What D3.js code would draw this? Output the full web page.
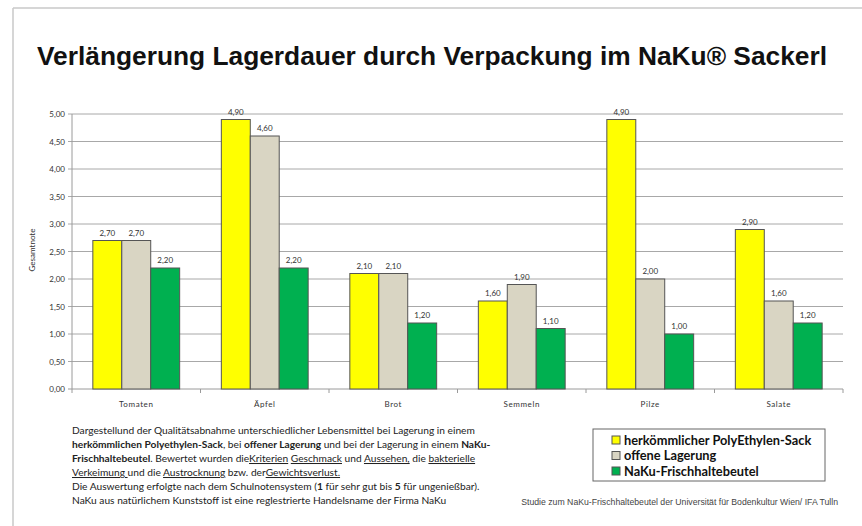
<!DOCTYPE html>
<html lang="de">
<head>
<meta charset="UTF-8">
<title>Verlängerung Lagerdauer</title>
<script src="https://d3js.org/d3.v7.min.js"></script>
<style>
  body { margin: 0; background: #fff; }
  svg { display: block; }
</style>
</head>
<body>
<div id="chart"></div>
<script>
const categories = ["Tomaten", "Äpfel", "Brot", "Semmeln", "Pilze", "Salate"];
const seriesNames = ["herkömmlicher PolyEthylen-Sack", "offene Lagerung", "NaKu-Frischhaltebeutel"];
const polySack = [2.7, 4.9, 2.1, 1.6, 4.9, 2.9];
const offen = [2.7, 4.6, 2.1, 1.9, 2.0, 1.6];
const naku = [2.2, 2.2, 1.2, 1.1, 1.0, 1.2];
const yTicks = [0, 0.5, 1, 1.5, 2, 2.5, 3, 3.5, 4, 4.5, 5];
const colors = ["#ffff00", "#d9d5c3", "#00b050"];

const W = 862, H = 526;
const svg = d3.select("#chart").append("svg").attr("width", W).attr("height", H);

// frame
svg.append("line").attr("x1", 13).attr("x2", W).attr("y1", 8).attr("y2", 8).attr("stroke", "#c8c8c8").attr("stroke-width", 1.5);
svg.append("line").attr("x1", 13).attr("x2", 13).attr("y1", 8).attr("y2", H).attr("stroke", "#c8c8c8").attr("stroke-width", 1.5);

svg.append("text")
  .attr("x", 432).attr("y", 65)
  .attr("text-anchor", "middle")
  .attr("font-family", "Liberation Sans, Arial, sans-serif")
  .attr("font-weight", "bold")
  .attr("font-size", 25)
  .attr("textLength", 790).attr("lengthAdjust", "spacingAndGlyphs")
  .attr("fill", "#111")
  .text("Verlängerung Lagerdauer durch Verpackung im NaKu® Sackerl");

const plotL = 72, plotR = 843, plotT = 114, plotB = 389;
const fmt = v => d3.format(".2f")(v).replace(".", ",");

const x0 = d3.scaleBand().domain(categories).range([plotL, plotR]);
const x1 = d3.scaleBand().domain(d3.range(3)).range([0, x0.bandwidth()]).paddingOuter(0.72);
const y = d3.scaleLinear().domain([0, 5]).range([plotB, plotT]);

// grid
svg.append("g").selectAll("line").data(yTicks).join("line")
  .attr("x1", plotL - 4).attr("x2", plotR)
  .attr("y1", d => y(d)).attr("y2", d => y(d))
  .attr("stroke", d => d === 0 ? "#9a9a9a" : "#a8a8a8").attr("stroke-width", 1);
svg.append("line").attr("x1", plotL).attr("x2", plotL).attr("y1", plotT).attr("y2", plotB).attr("stroke", "#9a9a9a");

svg.append("g").selectAll("text").data(yTicks).join("text")
  .attr("x", plotL - 7).attr("y", d => y(d) + 3)
  .attr("text-anchor", "end")
  .attr("font-family", "Lato, sans-serif").attr("font-size", 8).attr("fill", "#333")
  .text(fmt);

svg.append("text")
  .attr("transform", "translate(35,250) rotate(-90)")
  .attr("text-anchor", "middle")
  .attr("font-family", "Lato, sans-serif").attr("font-size", 8).attr("fill", "#333")
  .text("Gesamtnote");

// category ticks
svg.append("g").selectAll("line").data(d3.range(categories.length + 1)).join("line")
  .attr("x1", i => plotL + i * x0.step()).attr("x2", i => plotL + i * x0.step())
  .attr("y1", plotB).attr("y2", plotB + 4)
  .attr("stroke", "#9a9a9a");

svg.append("g").selectAll("text").data(categories).join("text")
  .attr("x", d => x0(d) + x0.bandwidth() / 2).attr("y", 407)
  .attr("text-anchor", "middle")
  .attr("font-family", "Lato, sans-serif").attr("font-size", 8).attr("letter-spacing", 0.6).attr("fill", "#333")
  .text(d => d);

// bars
const series = [polySack, offen, naku];
const barData = [];
categories.forEach((c, i) => series.forEach((s, j) => barData.push({ c, j, v: s[i] })));

svg.append("g").selectAll("rect").data(barData).join("rect")
  .attr("x", d => x0(d.c) + x1(d.j))
  .attr("y", d => y(d.v))
  .attr("width", x1.bandwidth())
  .attr("height", d => plotB - y(d.v))
  .attr("fill", d => colors[d.j])
  .attr("stroke", "#555").attr("stroke-width", 1);

svg.append("g").selectAll("text").data(barData).join("text")
  .attr("x", d => x0(d.c) + x1(d.j) + x1.bandwidth() / 2)
  .attr("y", d => y(d.v) - 5)
  .attr("text-anchor", "middle")
  .attr("font-family", "Lato, sans-serif").attr("font-size", 8).attr("fill", "#333")
  .text(d => fmt(d.v));

// description
const desc = [
  [["Dargestellund der Qualitätsabnahme unterschiedlicher Lebensmittel bei Lagerung in einem", ""]],
  [["herkömmlichen Polyethylen-Sack", "b"], [", bei ", ""], ["offener Lagerung", "b"], [" und bei der Lagerung in einem ", ""], ["NaKu-", "b"]],
  [["Frischhaltebeutel", "b"], [". Bewertet wurden die", ""], ["Kriterien", "u"], [" ", ""], ["Geschmack", "u"], [" und ", ""], ["Aussehen,", "u"], [" die ", ""], ["bakterielle", "u"]],
  [["Verkeimung ", "u"], ["und die ", ""], ["Austrocknung", "u"], [" bzw. der", ""], ["Gewichtsverlust.", "u"]],
  [["Die Auswertung erfolgte nach dem Schulnotensystem (", ""], ["1", "b"], [" für sehr gut bis ", ""], ["5", "b"], [" für ungenießbar).", ""]],
  [["NaKu aus natürlichem Kunststoff ist eine reglestrierte Handelsname der Firma NaKu", ""]]
];
const descG = svg.append("g");
desc.forEach((line, i) => {
  const t = descG.append("text")
    .attr("x", 72).attr("y", 434 + i * 14)
    .attr("font-family", "Lato, sans-serif").attr("font-size", 10.2).attr("fill", "#222");
  line.forEach(([s, st]) => {
    t.append("tspan")
      .attr("font-weight", st === "b" ? "bold" : null)
      .attr("text-decoration", st === "u" ? "underline" : null)
      .text(s);
  });
});

// legend
svg.append("rect").attr("x", 593).attr("y", 429).attr("width", 232).attr("height", 52)
  .attr("fill", "#fff").attr("stroke", "#666").attr("stroke-width", 1);
const leg = svg.append("g").selectAll("g").data(seriesNames).join("g")
  .attr("transform", (d, i) => `translate(612,${440 + i * 15.5})`);
leg.append("rect").attr("x", 0).attr("y", -4).attr("width", 8).attr("height", 8)
  .attr("fill", (d, i) => colors[i]).attr("stroke", "#555");
leg.append("text").attr("x", 12).attr("y", 4.5)
  .attr("font-family", "Lato, sans-serif").attr("font-weight", "bold").attr("font-size", 12.8).attr("fill", "#111")
  .text(d => d);

svg.append("text")
  .attr("x", 838).attr("y", 505).attr("text-anchor", "end")
  .attr("font-family", "Liberation Sans, sans-serif").attr("font-size", 8.7).attr("fill", "#444")
  .text("Studie zum NaKu-Frischhaltebeutel der Universität für Bodenkultur Wien/ IFA Tulln");
</script>
</body>
</html>
